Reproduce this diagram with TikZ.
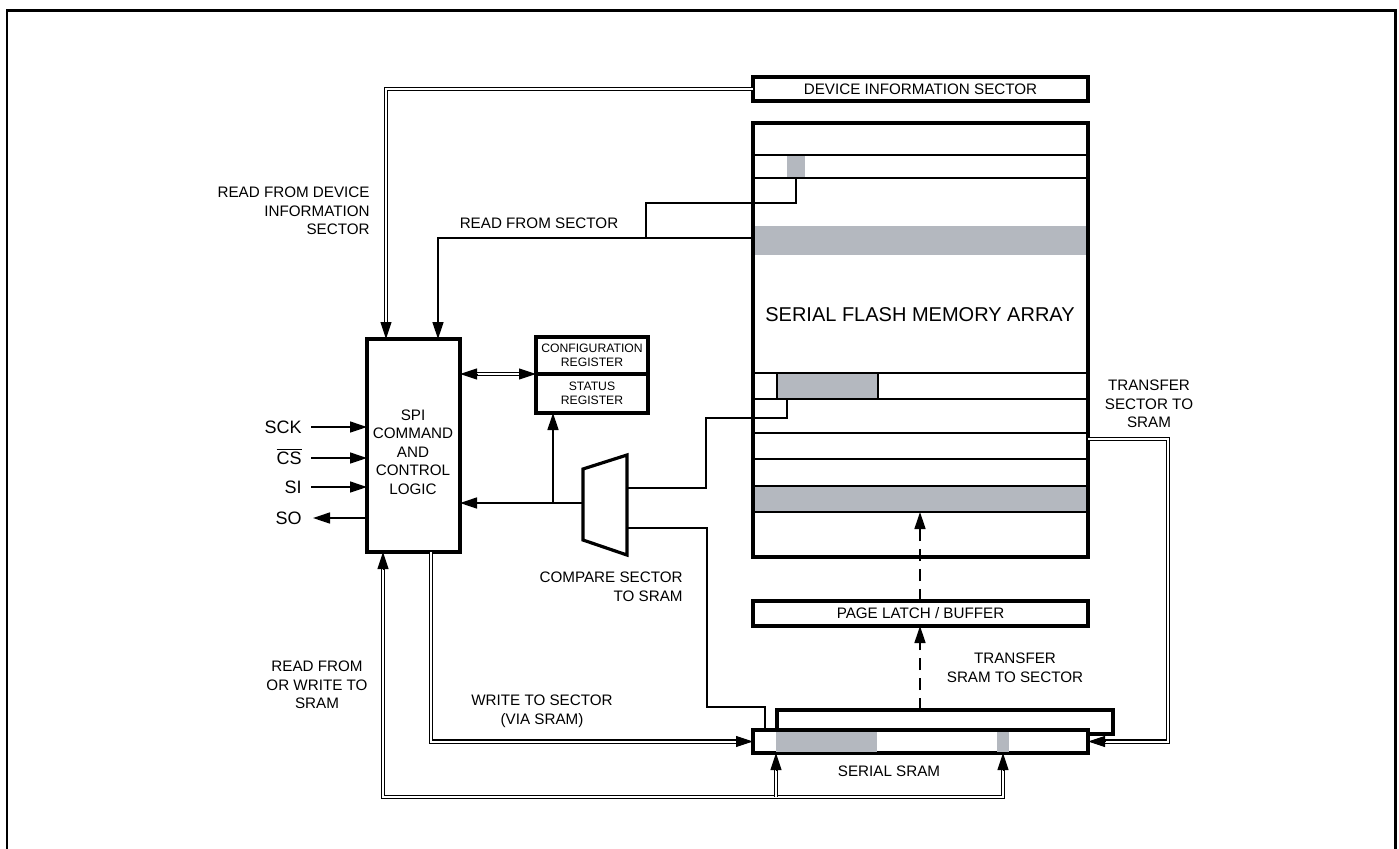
\documentclass[tikz,border=0pt]{standalone}
\usepackage{fontspec}
\setmainfont{Liberation Sans}
\usetikzlibrary{arrows.meta,calc}
\definecolor{memgray}{RGB}{180,184,191}
\newcommand\lblfont{\fontsize{7.6}{9.3}\selectfont}
\newcommand\regfont{\fontsize{6.1}{7}\selectfont}
\newcommand\sigfont{\fontsize{9}{10}\selectfont}
\begin{document}
\begin{tikzpicture}[x=0.5pt,y=-0.5pt,
  box/.style={draw, line width=1.6pt, inner sep=0pt, outer sep=0pt, fill=white},
  conn/.style={line width=0.7pt},
  arr/.style={conn, -{Triangle[length=8.5pt,width=5.5pt]}},
  dbl/.style={line width=0.55pt, double, double distance=1pt},
  tip/.style={line width=0.5pt, -{Triangle[length=8.5pt,width=5.5pt]}},
  dashline/.style={conn, dash pattern=on 6pt off 4pt, -{Triangle[length=8.5pt,width=5.5pt]}},
  lbl/.style={font=\lblfont, inner sep=0pt},
  sig/.style={font=\sigfont, inner sep=0pt, anchor=base east}]
\useasboundingbox (0,0) rectangle (1399,848);
\clip (0,0) rectangle (1399,848);
% outer frame
\draw[line width=1.4pt] (7,10.5) rectangle (1395.5,900);

% device information sector
\node[box, minimum width=167.5pt, minimum height=12pt, font=\lblfont] (dis) at (920.5,89) {DEVICE INFORMATION SECTOR};

% flash array
\node[box, minimum width=167.5pt, minimum height=217pt] (flash) at (920.5,340) {};
\fill[memgray] (754.6,226) rectangle (1086.4,255);
\fill[memgray] (754.6,486) rectangle (1086.4,512);
\fill[memgray] (787,155) rectangle (805,178);
\foreach \yy in {155,178,373,399,433,459,486,512}
  \draw[conn] (flash.west |- 0,\yy) -- (flash.east |- 0,\yy);
\draw[conn, fill=memgray] (777,373) rectangle (878,399);
\node[font=\fontsize{10}{12}\selectfont, inner sep=0pt] (flashtxt) at (920,315) {SERIAL FLASH MEMORY ARRAY};

% SPI block
\node[box, minimum width=46.5pt, minimum height=106.5pt] (spi) at (413.5,445.5) {};
\node[lbl, align=center] (spitxt) at (413,452) {SPI\\COMMAND\\AND\\CONTROL\\LOGIC};

% registers
\node[box, minimum width=56pt, minimum height=18.5pt, font=\regfont, align=center] (cfg) at (592,355.5) {CONFIGURATION\\REGISTER};
\node[box, minimum width=56pt, minimum height=19.5pt, font=\regfont, align=center] (sts) at (592,393.5) {STATUS\\REGISTER};

% page latch
\node[box, minimum width=167.5pt, minimum height=12.5pt, font=\lblfont] (latch) at (920.5,613.5) {PAGE LATCH / BUFFER};

% serial SRAM
\node[box, minimum width=168pt, minimum height=12pt] (sramb) at (945,722) {};
\node[box, minimum width=167.5pt, minimum height=11.5pt] (sram) at (920.5,741.5) {};
\fill[memgray] (776,731.5) rectangle (877,751.5);
\fill[memgray] (997,731.5) rectangle (1009,751.5);

% compare mux
\draw[line width=1.6pt, fill=white] (583,469) -- (627,455) -- (627,555) -- (583,540) -- cycle;
\coordinate (muxL) at (583,503);
\coordinate (muxR1) at (627,488);
\coordinate (muxR2) at (627,528);
\coordinate (jst) at (553,503);
\coordinate (cellA) at (796,178);
\coordinate (cellB) at (787,399);

% signals
\node[sig] (sck) at (302,433.4) {SCK};
\node[sig] (cs) at (302,464.4) {$\overline{\mbox{CS}}$};
\node[sig] (si) at (302,493.4) {SI};
\node[sig] (so) at (302,524.4) {SO};
\coordinate (sckin) at (311,427);
\coordinate (csin) at (311,458);
\coordinate (siin) at (311,487);
\coordinate (soout) at (313,518);
\draw[arr] (sckin) -- (spi.west |- sckin);
\draw[arr] (csin) -- (spi.west |- csin);
\draw[arr] (siin) -- (spi.west |- siin);
\draw[arr] (spi.west |- soout) -- (soout);

% read from device information sector
\draw[dbl, shorten >=6pt] (dis.west) -| (spi.north -| 386,0);
\draw[tip] ($(spi.north -| 386,0)+(0,-17)$) -- (spi.north -| 386,0);

% read from sector
\draw[conn] (cellA) |- (646,203) -- (646,238);
\draw[arr] (flash.west |- 0,238) -| (spi.north -| 438,0);

% spi <-> registers
\draw[dbl, shorten <=6pt, shorten >=6pt] (spi.east |- 0,374) -- (cfg.south west);
\draw[tip] ($(spi.east |- 0,374)+(17,0)$) -- (spi.east |- 0,374);
\draw[tip] ($(cfg.south west)+(-17,0)$) -- (cfg.south west);

% compare
\draw[arr] (muxL) -- (muxL -| spi.east);
\draw[arr] (jst) -- (jst |- sts.south);
\draw[conn] (muxR1) -| (706,418) -| (cellB);
\draw[conn] (muxR2) -| (707,707) -| (765,0 |- sram.north);

% write to sector via SRAM
\draw[dbl, shorten >=6pt] (spi.south -| 431,0) |- (sram.west);
\draw[tip] ($(sram.west)+(-17,0)$) -- (sram.west);

% read from or write to SRAM
\draw[dbl, shorten <=6pt, shorten >=6pt] (spi.south -| 383,0) |- (1003,797) -- (sram.south -| 1003,0);
\draw[dbl, shorten >=6pt] (776,797) -- (sram.south -| 776,0);
\draw[tip] ($(spi.south -| 383,0)+(0,17)$) -- (spi.south -| 383,0);
\draw[tip] ($(sram.south -| 1003,0)+(0,17)$) -- (sram.south -| 1003,0);
\draw[tip] ($(sram.south -| 776,0)+(0,17)$) -- (sram.south -| 776,0);

% transfer sector to SRAM
\draw[dbl, shorten >=6pt] (flash.east |- 0,439) -| ($(sram.east)+(80,0)$) -- (sram.east);
\draw[tip] ($(sram.east)+(17,0)$) -- (sram.east);

% transfer SRAM to sector (dashed)
\draw[dashline] (sramb.north -| 920,0) -- (latch.south -| 920,0);
\draw[dashline] (latch.north -| 920,0) -- (920,512);

% labels
\node[lbl, align=right, anchor=east] (l1) at (370,211) {READ FROM DEVICE\\INFORMATION\\SECTOR};
\node[lbl] (l2) at (539,223) {READ FROM SECTOR};
\node[lbl, align=center] (l3) at (1149,404) {TRANSFER\\SECTOR TO\\SRAM};
\node[lbl, align=right, anchor=east] (l4) at (683,587) {COMPARE SECTOR\\TO SRAM};
\node[lbl, align=center] (l5) at (317,685) {READ FROM\\OR WRITE TO\\SRAM};
\node[lbl, align=center] (l6) at (542,711) {WRITE TO SECTOR\\(VIA SRAM)};
\node[lbl, align=center] (l7) at (1015,668) {TRANSFER\\SRAM TO SECTOR};
\node[lbl] (l8) at (889,771) {SERIAL SRAM};
\end{tikzpicture}
\end{document}
